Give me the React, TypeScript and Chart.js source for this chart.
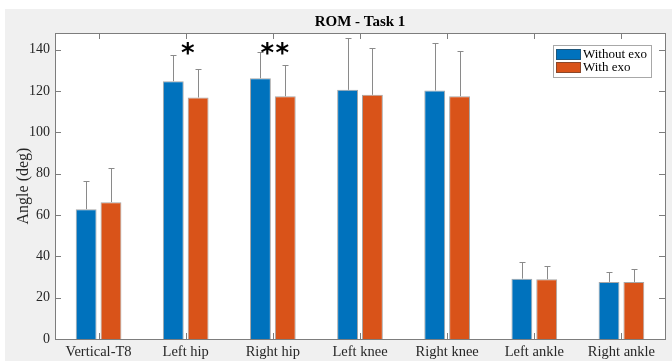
import React, { useEffect, useRef } from "react";
import { Chart, registerables } from "chart.js";

Chart.register(...registerables);

const categories = ["Vertical-T8", "Left hip", "Right hip", "Left knee", "Right knee", "Left ankle", "Right ankle"];
const withoutExo = [62.8, 124.7, 126.1, 120.5, 120.2, 29.2, 27.6];
const withoutExoUpper = [76.4, 137.4, 138.9, 145.7, 143.4, 37.2, 32.5];
const withExo = [66.2, 116.8, 117.4, 118.1, 117.4, 28.9, 27.6];
const withExoUpper = [82.5, 130.7, 132.3, 140.6, 139.2, 35.5, 34.0];
const significance = ["", "*", "**", "", "", "", ""];
const significanceLevel = 140.5;
const yTicks = [0, 20, 40, 60, 80, 100, 120, 140];
const yMax = 148;
const seriesNames = ["Without exo", "With exo"];
const seriesColors = ["#0072BD", "#D95319"];
const titleText = "ROM - Task 1";
const yTitle = "Angle (deg)";

const SERIF = "'Liberation Serif', 'Times New Roman', serif";
const AXIS_COLOR = "#7d7d7d";
const TEXT_COLOR = "#262626";

const decorPlugin = {
  id: "decor",
  beforeDraw(chart: any) {
    const { ctx, chartArea, width, height } = chart;
    ctx.save();
    ctx.fillStyle = "#ffffff";
    ctx.fillRect(0, 0, width, height);
    ctx.fillStyle = "#f0f0f0";
    ctx.fillRect(5, 9, width - 5, height - 9);
    ctx.fillStyle = "#ffffff";
    ctx.fillRect(chartArea.left, chartArea.top, chartArea.right - chartArea.left, chartArea.bottom - chartArea.top);
    ctx.restore();
  },
  afterDatasetsDraw(chart: any) {
    const { ctx } = chart;
    const yScale = chart.scales.y;
    const uppers = [withoutExoUpper, withExoUpper];
    ctx.save();
    ctx.strokeStyle = "#8a8a8a";
    ctx.lineWidth = 1;
    chart.data.datasets.forEach((_: any, di: number) => {
      const meta = chart.getDatasetMeta(di);
      meta.data.forEach((bar: any, i: number) => {
        const x = Math.round(bar.x) + 0.5;
        const yTop = Math.round(yScale.getPixelForValue(uppers[di][i])) + 0.5;
        const yBar = bar.y;
        ctx.beginPath();
        ctx.moveTo(x, yBar);
        ctx.lineTo(x, yTop);
        ctx.moveTo(x - 3, yTop);
        ctx.lineTo(x + 3, yTop);
        ctx.stroke();
      });
    });
    ctx.restore();
  },
  afterDraw(chart: any) {
    const { ctx, chartArea } = chart;
    const { left, right, top, bottom } = chartArea;
    const xScale = chart.scales.x;
    const yScale = chart.scales.y;
    ctx.save();
    // border
    ctx.strokeStyle = AXIS_COLOR;
    ctx.lineWidth = 1;
    ctx.strokeRect(Math.round(left) + 0.5, Math.round(top) + 0.5, Math.round(right - left), Math.round(bottom - top));
    // ticks
    ctx.beginPath();
    yTicks.forEach((v) => {
      const y = Math.round(yScale.getPixelForValue(v)) + 0.5;
      ctx.moveTo(left, y);
      ctx.lineTo(left + 6, y);
      ctx.moveTo(right, y);
      ctx.lineTo(right - 6, y);
    });
    categories.forEach((_, i) => {
      const x = Math.round(xScale.getPixelForValue(i)) + 0.5;
      ctx.moveTo(x, top);
      ctx.lineTo(x, top + 6);
      ctx.moveTo(x, bottom);
      ctx.lineTo(x, bottom - 6);
    });
    ctx.stroke();

    // significance stars
    ctx.fillStyle = "#000000";
    ctx.font = "bold 26px 'DejaVu Sans'";
    ctx.textAlign = "center";
    ctx.textBaseline = "alphabetic";
    const m = ctx.measureText("*");
    const starMid = (m.actualBoundingBoxAscent - m.actualBoundingBoxDescent) / 2;
    significance.forEach((s, i) => {
      if (!s) return;
      const cx = xScale.getPixelForValue(i) + 2;
      const cy = yScale.getPixelForValue(significanceLevel);
      const n = s.length;
      for (let k = 0; k < n; k++) {
        const sx = cx + (k - (n - 1) / 2) * 15;
        ctx.fillText("*", sx, cy + starMid);
      }
    });

    // title
    ctx.fillStyle = "#000000";
    ctx.font = `bold 15px ${SERIF}`;
    ctx.textAlign = "center";
    ctx.textBaseline = "middle";
    ctx.fillText(titleText, (left + right) / 2, 22);

    // y title
    ctx.save();
    ctx.translate(24, (top + bottom) / 2);
    ctx.rotate(-Math.PI / 2);
    ctx.fillStyle = TEXT_COLOR;
    ctx.font = `16px ${SERIF}`;
    ctx.textAlign = "center";
    ctx.textBaseline = "middle";
    ctx.fillText(yTitle, 0, 0);
    ctx.restore();

    // legend
    const lx = 553, ly = 45, lw = 98, lh = 32;
    ctx.fillStyle = "#ffffff";
    ctx.fillRect(lx, ly, lw, lh);
    ctx.strokeStyle = "#a8a8a8";
    ctx.strokeRect(lx + 0.5, ly + 0.5, lw, lh);
    ctx.font = `13px ${SERIF}`;
    ctx.textAlign = "left";
    ctx.textBaseline = "middle";
    seriesNames.forEach((name, i) => {
      const ry = ly + 4 + i * 13;
      ctx.fillStyle = seriesColors[i];
      ctx.fillRect(lx + 3, ry, 25, 11);
      ctx.strokeStyle = "rgba(60,60,60,0.5)";
      ctx.strokeRect(lx + 3.5, ry + 0.5, 24, 10);
      ctx.fillStyle = "#000000";
      ctx.fillText(name, lx + 30, ry + 6);
    });
    ctx.restore();
  },
};

export default function App() {
  const ref = useRef<HTMLCanvasElement>(null);
  useEffect(() => {
    document.body.style.margin = "0";
    if (!ref.current) return;
    const chart = new Chart(ref.current, {
      type: "bar",
      data: {
        labels: categories,
        datasets: [
          {
            label: seriesNames[0],
            data: withoutExo,
            backgroundColor: seriesColors[0],
            borderColor: "rgba(60,60,60,0.45)",
            borderWidth: 1,
            categoryPercentage: 0.57,
            barPercentage: 0.84,
          },
          {
            label: seriesNames[1],
            data: withExo,
            backgroundColor: seriesColors[1],
            borderColor: "rgba(60,60,60,0.45)",
            borderWidth: 1,
            categoryPercentage: 0.57,
            barPercentage: 0.84,
          },
        ],
      },
      options: {
        responsive: false,
        animation: false,
        layout: { padding: { top: 33, right: 7, left: 0, bottom: 0 } },
        plugins: {
          legend: { display: false },
          title: { display: false },
          tooltip: { enabled: false },
        },
        scales: {
          x: {
            grid: { display: false, drawTicks: false },
            border: { display: false },
            ticks: {
              color: TEXT_COLOR,
              font: { family: SERIF, size: 14.5 },
              padding: 4,
              maxRotation: 0,
              autoSkip: false,
            },
            afterFit(scale: any) {
              scale.height = 22;
            },
          },
          y: {
            min: 0,
            max: yMax,
            grid: { display: false, drawTicks: false },
            border: { display: false },
            ticks: {
              color: TEXT_COLOR,
              font: { family: SERIF, size: 14 },
              padding: 5,
              stepSize: 20,
            },
            afterBuildTicks(scale: any) {
              scale.ticks = yTicks.map((v) => ({ value: v }));
            },
            afterFit(scale: any) {
              scale.width = 55;
            },
          },
        },
      },
      plugins: [decorPlugin],
    });
    return () => chart.destroy();
  }, []);
  return <canvas ref={ref} width={672} height={361} style={{ display: "block" }} />;
}
